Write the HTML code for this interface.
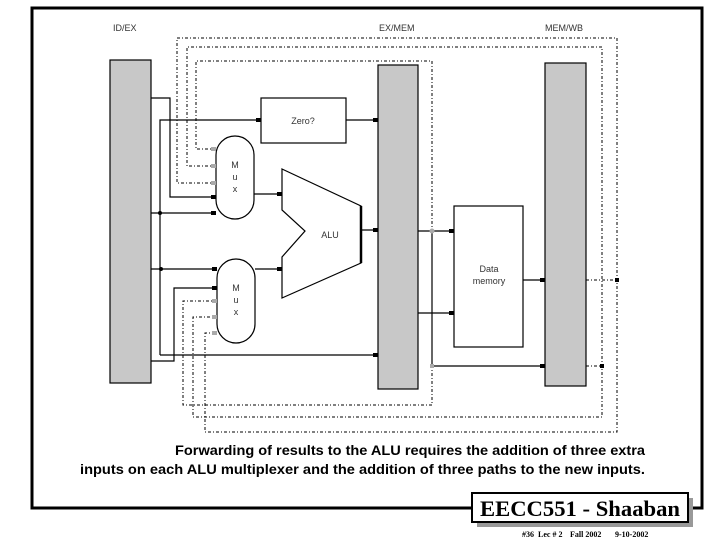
<!DOCTYPE html>
<html><head><meta charset="utf-8"><style>
body{margin:0;background:#fff;width:720px;height:540px;overflow:hidden}
svg{display:block}
text{font-family:"Liberation Sans",sans-serif}
text.s{font-family:"Liberation Serif",serif;font-weight:bold}
</style></head><body>
<svg width="720" height="540" viewBox="0 0 720 540" xmlns="http://www.w3.org/2000/svg">
<rect x="32" y="8" width="670" height="500" fill="none" stroke="#000" stroke-width="3"/>
<g font-size="9" fill="#333">
<text x="113" y="31">ID/EX</text>
<text x="379" y="31">EX/MEM</text>
<text x="545" y="31">MEM/WB</text>
</g>
<g fill="#c8c8c8" stroke="#000" stroke-width="1.2">
<rect x="110" y="60" width="41" height="323"/>
<rect x="378" y="65" width="40" height="324"/>
<rect x="545" y="63" width="41" height="323"/>
</g>
<g fill="none" stroke="#000" stroke-width="1" stroke-dasharray="3,2,1,2">
<polyline points="216,149 196,149 196,61 432,61 432,405 183,405 183,301 216,301"/>
<polyline points="216,166 187,166 187,47 602,47 602,417 193,417 193,317 216,317"/>
<polyline points="216,183 177,183 177,38 617,38 617,432 205,432 205,333 216,333"/>
<line x1="586" y1="280" x2="617" y2="280"/>
<line x1="586" y1="366" x2="602" y2="366"/>
</g>
<g fill="none" stroke="#000" stroke-width="1.2">
<polyline points="151,98 170,98 170,197 216,197"/>
<polyline points="160,355 160,120 261,120"/>
<line x1="151" y1="213" x2="216" y2="213"/>
<line x1="151" y1="269" x2="217" y2="269"/>
<line x1="160" y1="355" x2="378" y2="355"/>
<polyline points="151,361 174,361 174,288 217,288"/>
<line x1="254" y1="194" x2="282" y2="194"/>
<line x1="255" y1="269" x2="282" y2="269"/>
<line x1="361" y1="230" x2="378" y2="230"/>
<line x1="346" y1="120" x2="378" y2="120"/>
<line x1="418" y1="231" x2="454" y2="231"/>
<line x1="418" y1="313" x2="454" y2="313"/>
<polyline points="432,231 432,366 545,366"/>
<line x1="523" y1="280" x2="545" y2="280"/>
</g>
<g fill="#fff" stroke="#000" stroke-width="1.2">
<rect x="261" y="98" width="85" height="45"/>
<rect x="454" y="206" width="69" height="141"/>
<rect x="216" y="136" width="38" height="83" rx="19" ry="19"/>
<rect x="217" y="259" width="38" height="84" rx="19" ry="19"/>
<polygon points="282,169 361,206 361,263 282,298 282,257 305,231 282,210"/>
</g>
<line x1="361" y1="206" x2="361" y2="263" stroke="#000" stroke-width="2.5"/>
<g font-size="9" fill="#333" text-anchor="middle">
<text x="303" y="124">Zero?</text>
<text x="235" y="168">M</text><text x="235" y="180">u</text><text x="235" y="192">x</text>
<text x="236" y="291">M</text><text x="236" y="303">u</text><text x="236" y="315">x</text>
<text x="330" y="238">ALU</text>
<text x="489" y="272">Data</text>
<text x="489" y="284">memory</text>
</g>
<g fill="#000">
<rect x="211" y="195" width="5" height="4"/><rect x="211" y="211" width="5" height="4"/>
<rect x="256" y="118" width="5" height="4"/><rect x="373" y="118" width="5" height="4"/>
<rect x="277" y="192" width="5" height="4"/><rect x="277" y="267" width="5" height="4"/>
<rect x="373" y="228" width="5" height="4"/><rect x="212" y="267" width="5" height="4"/>
<rect x="212" y="286" width="5" height="4"/><rect x="373" y="353" width="5" height="4"/>
<rect x="449" y="229" width="5" height="4"/><rect x="449" y="311" width="5" height="4"/>
<rect x="540" y="278" width="5" height="4"/><rect x="540" y="364" width="5" height="4"/>
<rect x="615" y="278" width="4" height="4"/><rect x="600" y="364" width="4" height="4"/>
<circle cx="160" cy="213" r="2"/><circle cx="161" cy="269" r="2"/>
</g>
<g fill="#aaa">
<rect x="211" y="147" width="5" height="4"/><rect x="211" y="164" width="5" height="4"/><rect x="211" y="181" width="5" height="4"/>
<rect x="212" y="299" width="5" height="4"/><rect x="212" y="315" width="5" height="4"/><rect x="212" y="331" width="5" height="4"/>
<circle cx="432" cy="231" r="2.5"/><rect x="430" y="364" width="4" height="4"/>
</g>
<g font-size="14" font-weight="bold" fill="#000">
<text x="175" y="455" textLength="470" lengthAdjust="spacingAndGlyphs">Forwarding of results to the ALU requires the addition of three extra</text>
<text x="80" y="474" textLength="565" lengthAdjust="spacingAndGlyphs">inputs on each ALU multiplexer and the addition of three paths to the new inputs.</text>
</g>
<rect x="477" y="498" width="216" height="29" fill="#999"/>
<rect x="472" y="493" width="216" height="29" fill="#fff" stroke="#000" stroke-width="2"/>
<text class="s" x="580" y="516" text-anchor="middle" font-size="22" textLength="200" lengthAdjust="spacingAndGlyphs">EECC551 - Shaaban</text>
<text class="s" x="522" y="537" font-size="8">#36</text>
<text class="s" x="538" y="537" font-size="8">Lec # 2</text>
<text class="s" x="570" y="537" font-size="8">Fall 2002</text>
<text class="s" x="615" y="537" font-size="8">9-10-2002</text>
</svg>
</body></html>
